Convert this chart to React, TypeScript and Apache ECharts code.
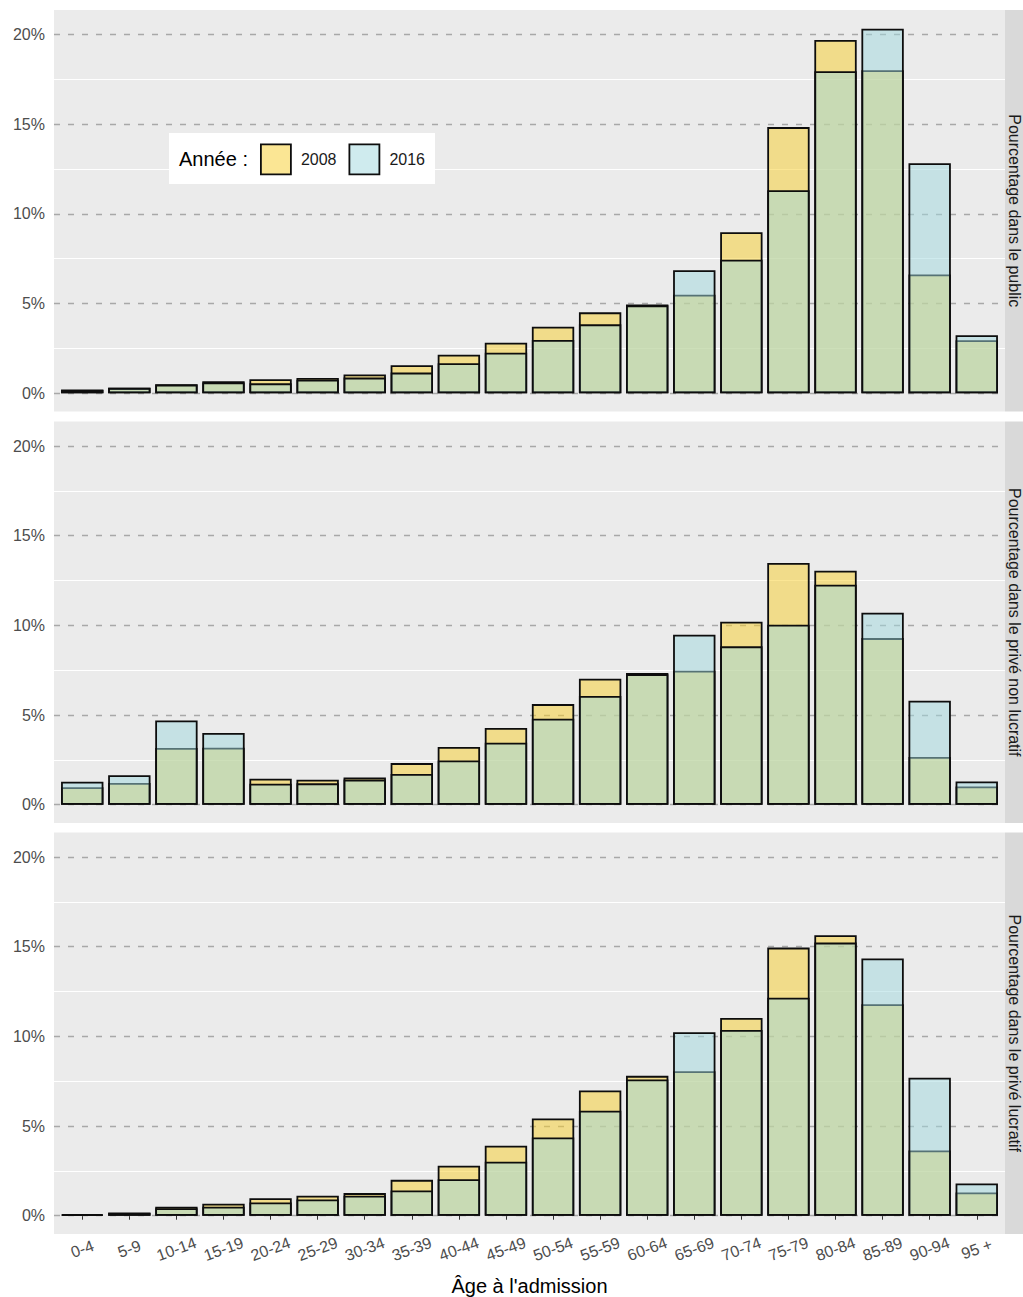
import React, { useEffect, useRef } from "react";
import * as echarts from "echarts";

// ---- data ----
const ageGroups = ["0-4", "5-9", "10-14", "15-19", "20-24", "25-29", "30-34", "35-39", "40-44", "45-49", "50-54", "55-59", "60-64", "65-69", "70-74", "75-79", "80-84", "85-89", "90-94", "95 +"];
const years = ["2008", "2016"];
const panelLabels = ["Pourcentage dans le public", "Pourcentage dans le privé non lucratif", "Pourcentage dans le privé lucratif"];

const public2008 = [0.2, 0.3, 0.5, 0.67, 0.78, 0.85, 1.04, 1.56, 2.15, 2.82, 3.71, 4.51, 4.95, 5.49, 8.98, 14.84, 19.7, 18.01, 6.62, 2.95];
const public2016 = [0.18, 0.3, 0.48, 0.6, 0.55, 0.75, 0.87, 1.15, 1.67, 2.26, 2.97, 3.84, 4.9, 6.86, 7.44, 11.32, 17.96, 20.33, 12.82, 3.23];
const nonProfit2008 = [0.97, 1.21, 3.16, 3.18, 1.45, 1.39, 1.52, 2.32, 3.22, 4.28, 5.61, 7.03, 7.34, 7.47, 10.2, 13.48, 13.05, 9.29, 2.66, 1.02];
const nonProfit2016 = [1.28, 1.64, 4.7, 4.0, 1.17, 1.19, 1.4, 1.71, 2.47, 3.46, 4.8, 6.06, 7.28, 9.48, 8.83, 10.04, 12.27, 10.71, 5.8, 1.3];
const forProfit2008 = [0.08, 0.18, 0.5, 0.67, 0.97, 1.11, 1.26, 2.0, 2.79, 3.9, 5.42, 6.98, 7.8, 8.06, 11.03, 14.95, 15.64, 11.79, 3.64, 1.3];
const forProfit2016 = [0.07, 0.15, 0.42, 0.5, 0.74, 0.91, 1.11, 1.41, 2.04, 3.01, 4.36, 5.85, 7.6, 10.23, 10.36, 12.16, 15.23, 14.34, 7.69, 1.8];

const yMajorTicks = [0, 5, 10, 15, 20];
const yMinorTicks = [2.5, 7.5, 12.5, 17.5];

// ---- layout / style ----
const W = 1023;
const H = 1297;
const FONT = "'Liberation Sans', Arial, sans-serif";
const panelLeft = 54;
const panelWidth = 951;
const panelTops = [10, 421.5, 832.5];
const panelHeight = 401.5;
const yMin = -1.02;
const yMax = 21.37;
const xMin = -0.6;
const xMax = ageGroups.length - 1 + 0.6;
const barWidthPx = (panelWidth / (xMax - xMin)) * 0.9;
const colors = ["rgba(247,205,41,0.5)", "rgba(160,215,222,0.5)"];

const panelData = [
  [public2008, public2016],
  [nonProfit2008, nonProfit2016],
  [forProfit2008, forProfit2016],
];

export default function App() {
  const ref = useRef<HTMLDivElement>(null);

  useEffect(() => {
    document.body.style.margin = "0";
    if (!ref.current) return;
    const chart = echarts.init(ref.current, undefined, { renderer: "svg" });

    const grids: any[] = [];
    const xAxes: any[] = [];
    const yAxes: any[] = [];
    const series: any[] = [];
    const graphics: any[] = [];

    panelData.forEach((pair, k) => {
      const isLast = k === panelData.length - 1;
      grids.push({
        left: panelLeft,
        top: panelTops[k],
        width: panelWidth,
        height: panelHeight,
        show: true,
        backgroundColor: "#EBEBEB",
        borderWidth: 0,
      });
      xAxes.push({
        type: "value",
        gridIndex: k,
        min: xMin,
        max: xMax,
        show: isLast,
        splitLine: { show: false },
        axisLine: { show: false },
        axisTick: {
          show: isLast,
          customValues: ageGroups.map((_, i) => i),
          length: 4,
          lineStyle: { color: "#333333", width: 1 },
        },
        axisLabel: {
          show: isLast,
          customValues: ageGroups.map((_, i) => i),
          formatter: (v: number) => ageGroups[Math.round(v)] ?? "",
          rotate: 20,
          align: "center",
          verticalAlign: "middle",
          margin: 15,
          fontSize: 16,
          color: "#4D4D4D",
          fontFamily: FONT,
        },
      });
      yAxes.push({
        type: "value",
        gridIndex: k,
        min: yMin,
        max: yMax,
        splitLine: { show: false },
        axisLine: { show: false },
        axisTick: { show: false },
        axisLabel: {
          customValues: yMajorTicks,
          formatter: (v: number) => `${v}%`,
          fontSize: 16,
          color: "#4D4D4D",
          fontFamily: FONT,
          margin: 9,
        },
      });
      // grid lines (minor white, major dashed)
      series.push({
        type: "lines",
        coordinateSystem: "cartesian2d",
        xAxisIndex: k,
        yAxisIndex: k,
        z: 1,
        silent: true,
        lineStyle: { color: "#FFFFFF", width: 1, opacity: 1 },
        data: yMinorTicks.map((v) => ({ coords: [[xMin, v], [xMax, v]] })),
      });
      series.push({
        type: "lines",
        coordinateSystem: "cartesian2d",
        xAxisIndex: k,
        yAxisIndex: k,
        z: 1,
        silent: true,
        lineStyle: { color: "#A8A8A8", width: 1.3, type: [6, 8], opacity: 1 },
        data: yMajorTicks.map((v) => ({ coords: [[xMin, v], [xMax, v]] })),
      });
      pair.forEach((vals, j) => {
        series.push({
          type: "bar",
          name: years[j],
          xAxisIndex: k,
          yAxisIndex: k,
          z: 2 + j,
          barWidth: barWidthPx,
          barGap: "-100%",
          itemStyle: { color: colors[j], borderColor: "#0D0D0D", borderWidth: 1.8 },
          data: vals.map((v, i) => [i, v]),
        });
      });
      // strip
      graphics.push({
        type: "rect",
        shape: { x: panelLeft + panelWidth, y: panelTops[k], width: 40, height: panelHeight },
        style: { fill: "#D9D9D9" },
        silent: true,
      });
      graphics.push({
        type: "text",
        x: 1014,
        y: panelTops[k] + panelHeight / 2,
        rotation: -Math.PI / 2,
        silent: true,
        style: {
          text: panelLabels[k],
          fontSize: 16,
          fill: "#1A1A1A",
          fontFamily: FONT,
          align: "center",
          verticalAlign: "middle",
        },
      });
    });

    // legend box and title
    graphics.push({
      type: "rect",
      z: 10,
      shape: { x: 169, y: 133, width: 266, height: 51 },
      style: { fill: "#FFFFFF" },
      silent: true,
    });
    graphics.push({
      type: "text",
      z: 11,
      x: 179,
      y: 158.5,
      silent: true,
      style: { text: "Année :", fontSize: 20, fill: "#000000", fontFamily: FONT, align: "left", verticalAlign: "middle" },
    });
    // x axis title
    graphics.push({
      type: "text",
      x: panelLeft + panelWidth / 2,
      y: 1286,
      silent: true,
      style: { text: "Âge à l'admission", fontSize: 20, fill: "#000000", fontFamily: FONT, align: "center", verticalAlign: "middle" },
    });

    chart.setOption({
      animation: false,
      backgroundColor: "#FFFFFF",
      textStyle: { fontFamily: FONT },
      grid: grids,
      xAxis: xAxes,
      yAxis: yAxes,
      legend: {
        data: years,
        left: 260,
        top: 143.5,
        z: 12,
        padding: 0,
        itemWidth: 30,
        itemHeight: 30,
        itemGap: 12,
        icon: "rect",
        selectedMode: false,
        itemStyle: { borderColor: "#0D0D0D", borderWidth: 1.8 },
        textStyle: { fontSize: 16, color: "#1A1A1A", fontFamily: FONT, padding: [0, 0, 0, 5] },
      },
      graphic: graphics,
      series,
    });

    return () => chart.dispose();
  }, []);

  return <div ref={ref} style={{ width: W, height: H, position: "absolute", left: 0, top: 0 }} />;
}
